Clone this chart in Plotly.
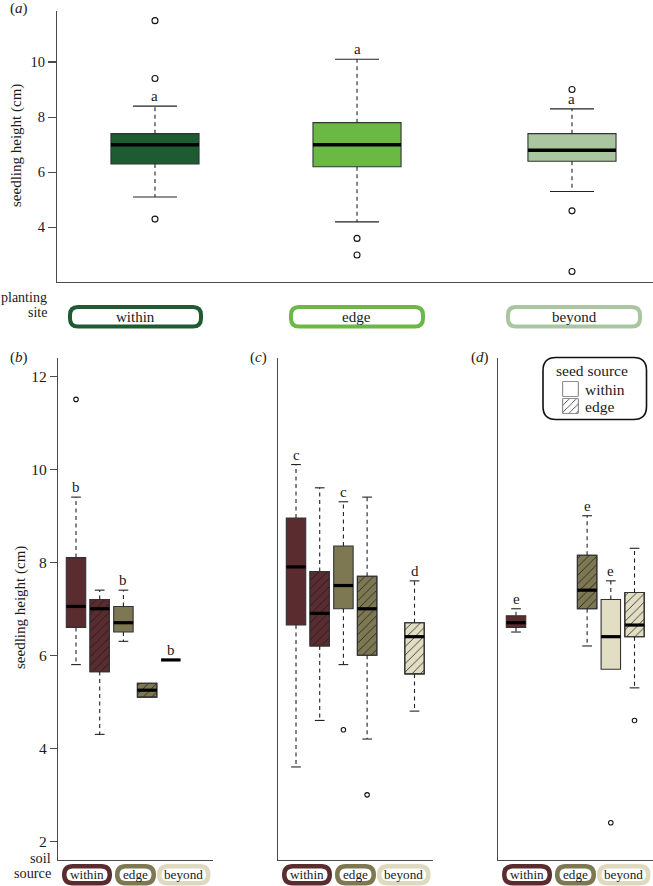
import plotly.graph_objects as go

W, H = 653, 886
FONT = "Liberation Serif"
TXT = "#1a1a1a"

# ---------------- data ----------------
# panel (a): planting site
site_names = ["within", "edge", "beyond"]
a_q1 = [6.3, 6.2, 6.4]
a_med = [7.0, 7.0, 6.8]
a_q3 = [7.4, 7.8, 7.4]
a_lo = [5.1, 4.2, 5.3]
a_hi = [8.4, 10.1, 8.3]
a_out = [[11.5, 9.4, 4.3], [3.6, 3.0], [9.0, 4.6, 2.4]]
a_letters = ["a", "a", "a"]

# panels (b)-(d): soil source x seed source, per planting site
soil_names = ["within", "edge", "beyond"]
group_soil = ["within", "within", "edge", "edge", "beyond", "beyond"]
group_seed = ["within", "edge", "within", "edge", "within", "edge"]

b_q1 = [6.6, 5.65, 6.5, 5.1, 5.9, None]
b_med = [7.05, 7.0, 6.7, 5.25, 5.9, None]
b_q3 = [8.1, 7.2, 7.05, 5.4, 5.9, None]
b_lo = [5.8, 4.3, 6.3, 5.1, 5.9, None]
b_hi = [9.4, 7.4, 7.4, 5.4, 5.9, None]
b_out = [[11.5], [], [], [], [], []]
b_letters = ["b", "", "b", "", "b", ""]

c_q1 = [6.65, 6.2, 7.0, 6.0, None, 5.6]
c_med = [7.9, 6.9, 7.5, 7.0, None, 6.4]
c_q3 = [8.95, 7.8, 8.35, 7.7, None, 6.7]
c_lo = [3.6, 4.6, 5.8, 4.2, None, 4.8]
c_hi = [10.1, 9.6, 9.3, 9.4, None, 7.6]
c_out = [[], [], [4.4], [3.0], [], []]
c_letters = ["c", "", "c", "", "", "d"]

d_q1 = [6.6, None, None, 7.0, 5.7, 6.4]
d_med = [6.7, None, None, 7.4, 6.4, 6.65]
d_q3 = [6.85, None, None, 8.15, 7.2, 7.35]
d_lo = [6.5, None, None, 6.2, 5.7, 5.3]
d_hi = [7.0, None, None, 9.0, 7.6, 8.3]
d_out = [[], [], [], [], [2.4], [4.6]]
d_letters = ["e", "", "", "e", "e", ""]

a_yticks = [4, 6, 8, 10]
bcd_yticks = [2, 4, 6, 8, 10, 12]

# ---------------- styles ----------------
site_colors = {"within": "#1f5b32", "edge": "#6bb845", "beyond": "#a9c6a1"}
soil_colors = {"within": "#5a2c2f", "edge": "#7d7852", "beyond": "#e2dec4"}
soil_border = {"within": "#5a2c2f", "edge": "#7d7852", "beyond": "#dedabf"}

a_pos = [1.0, 2.0, 3.064]
slot_pos = [1, 2, 3, 4, 5, 6]


def px(x):
    return x / W


def py(y):
    return 1 - y / H


fig = go.Figure()

HATCH = dict(shape="/", fillmode="replace", fgcolor="#1a1a1a",
             bgcolor="rgba(0,0,0,0)", size=6, solidity=0.13)


def add_panel(xa, ya, pos, q1, med, q3, lo, hi, outs, fills, hatch, width,
              medw, osize, fontsize, letters):
    idx = [i for i in range(len(pos)) if q1[i] is not None]
    fig.add_trace(go.Bar(
        x=[pos[i] for i in idx],
        y=[q3[i] - q1[i] for i in idx],
        base=[q1[i] for i in idx],
        width=width,
        marker=dict(color=[fills[i] for i in idx],
                    line=dict(color="#333333", width=1.1)),
        xaxis=xa, yaxis=ya, cliponaxis=False, hoverinfo="skip"))
    hidx = [i for i in idx if hatch[i]]
    if hidx:
        fig.add_trace(go.Bar(
            x=[pos[i] for i in hidx],
            y=[q3[i] - q1[i] for i in hidx],
            base=[q1[i] for i in hidx],
            width=width,
            marker=dict(color="rgba(0,0,0,0)",
                        line=dict(color="#333333", width=1.1),
                        pattern=HATCH),
            xaxis=xa, yaxis=ya, cliponaxis=False, hoverinfo="skip"))
    mx, my, wx, wy, cx, cy = [], [], [], [], [], []
    for i in idx:
        x0, x1 = pos[i] - width / 2, pos[i] + width / 2
        mx += [x0, x1, None]
        my += [med[i], med[i], None]
        if hi[i] > q3[i]:
            wx += [pos[i], pos[i], None]
            wy += [q3[i], hi[i], None]
            cx += [pos[i] - width / 4, pos[i] + width / 4, None]
            cy += [hi[i], hi[i], None]
        if lo[i] < q1[i]:
            wx += [pos[i], pos[i], None]
            wy += [q1[i], lo[i], None]
            cx += [pos[i] - width / 4, pos[i] + width / 4, None]
            cy += [lo[i], lo[i], None]
    fig.add_trace(go.Scatter(x=wx, y=wy, mode="lines",
                             line=dict(color="#222", width=1.1, dash="4px,3.5px"),
                             xaxis=xa, yaxis=ya, hoverinfo="skip", cliponaxis=False))
    fig.add_trace(go.Scatter(x=cx, y=cy, mode="lines",
                             line=dict(color="#222", width=1.1),
                             xaxis=xa, yaxis=ya, hoverinfo="skip", cliponaxis=False))
    fig.add_trace(go.Scatter(x=mx, y=my, mode="lines",
                             line=dict(color="#000", width=medw),
                             xaxis=xa, yaxis=ya, hoverinfo="skip", cliponaxis=False))
    ox, oy = [], []
    for i in range(len(pos)):
        for v in outs[i]:
            ox.append(pos[i])
            oy.append(v)
    fig.add_trace(go.Scatter(x=ox, y=oy, mode="markers",
                             marker=dict(symbol="circle-open", size=osize,
                                         color="#111", line=dict(width=1.1)),
                             xaxis=xa, yaxis=ya, hoverinfo="skip", cliponaxis=False))
    for i in idx:
        if letters[i]:
            fig.add_annotation(x=pos[i], y=hi[i], xref=xa, yref=ya,
                               text=letters[i], showarrow=False,
                               yanchor="bottom", yshift=0,
                               font=dict(size=fontsize, color=TXT, family=FONT))


# panel (a)
add_panel("x", "y", a_pos, a_q1, a_med, a_q3, a_lo, a_hi, a_out,
          [site_colors[s] for s in site_names], [False] * 3,
          0.436, 3.6, 6, 15, a_letters)

fill6 = [soil_colors[s] for s in group_soil]
hatch6 = [s == "edge" for s in group_seed]
panels = [("x2", "y2", b_q1, b_med, b_q3, b_lo, b_hi, b_out, b_letters),
          ("x3", "y3", c_q1, c_med, c_q3, c_lo, c_hi, c_out, c_letters),
          ("x4", "y4", d_q1, d_med, d_q3, d_lo, d_hi, d_out, d_letters)]
for xa, ya, q1, med, q3, lo, hi, outs, lets in panels:
    add_panel(xa, ya, slot_pos, q1, med, q3, lo, hi, outs, fill6, hatch6,
              0.82, 3.2, 4.5, 15, lets)

# legend squares (seed source)
fig.add_trace(go.Bar(x=[0.5], y=[1], base=[0], width=1, xaxis="x5", yaxis="y5",
                     marker=dict(color="white", line=dict(color="#222", width=1.2)),
                     cliponaxis=False, hoverinfo="skip"))
fig.add_trace(go.Bar(x=[0.5], y=[1], base=[0], width=1, xaxis="x6", yaxis="y6",
                     marker=dict(color="white", line=dict(color="#222", width=1.2),
                                 pattern=dict(shape="/", fillmode="replace",
                                              fgcolor="#222", bgcolor="white",
                                              size=5, solidity=0.15)),
                     cliponaxis=False, hoverinfo="skip"))

LINE = "#4a4a4a"
axis_common = dict(showgrid=False, zeroline=False, showline=True,
                   linecolor=LINE, linewidth=1.2)
layout = dict(
    width=W, height=H, margin=dict(l=0, r=0, t=0, b=0),
    plot_bgcolor="white", paper_bgcolor="white", showlegend=False,
    barmode="overlay", font=dict(family=FONT, color=TXT),
    xaxis=dict(domain=[px(57), 1.0], range=[0.515, 3.465], anchor="y",
               showticklabels=False, ticks="", **axis_common),
    yaxis=dict(domain=[py(281.7), py(11)], range=[2.03, 11.85], anchor="x",
               tickvals=a_yticks, ticks="outside", ticklen=8, tickcolor=LINE,
               tickwidth=1.2, tickfont=dict(size=14.5, family=FONT, color=TXT),
               **axis_common),
)
xdoms = {"2": (58, 213), "3": (278, 433), "4": (498, 653)}
for k, (l, r) in xdoms.items():
    layout["xaxis" + k] = dict(domain=[px(l), px(r)], range=[0.24, 6.78],
                               anchor="y" + k, showticklabels=False, ticks="",
                               **axis_common)
    yax = dict(domain=[py(860), py(358)], range=[1.6, 12.39], anchor="x" + k,
               **axis_common)
    if k == "2":
        yax.update(tickvals=bcd_yticks, ticks="outside", ticklen=7,
                   tickcolor=LINE, tickwidth=1.2,
                   tickfont=dict(size=15.5, family=FONT, color=TXT))
    else:
        yax.update(showticklabels=False, ticks="")
    layout["yaxis" + k] = yax
hidden = dict(visible=False, range=[0, 1], fixedrange=True)
layout["xaxis5"] = dict(domain=[px(562.5), px(578.5)], anchor="y5", **hidden)
layout["yaxis5"] = dict(domain=[py(396.5), py(381.5)], anchor="x5", **hidden)
layout["xaxis6"] = dict(domain=[px(562.5), px(578.5)], anchor="y6", **hidden)
layout["yaxis6"] = dict(domain=[py(413.5), py(398.5)], anchor="x6", **hidden)
fig.update_layout(**layout)


def rounded(l, t, r, b, rad):
    pts = [("M", (l + rad, t)), ("L", (r - rad, t)),
           ("Q", (r, t), (r, t + rad)), ("L", (r, b - rad)),
           ("Q", (r, b), (r - rad, b)), ("L", (l + rad, b)),
           ("Q", (l, b), (l, b - rad)), ("L", (l, t + rad)),
           ("Q", (l, t), (l + rad, t))]
    s = ""
    for p in pts:
        s += p[0] + " ".join("%.5f,%.5f" % (px(x), py(y)) for x, y in p[1:]) + " "
    return s + "Z"


def pill(l, t, r, b, color, lw, text, size, rad):
    fig.add_shape(type="path", xref="paper", yref="paper",
                  path=rounded(l + lw / 2, t + lw / 2, r - lw / 2, b - lw / 2, rad),
                  line=dict(color=color, width=lw), fillcolor="white", layer="above")
    fig.add_annotation(x=px((l + r) / 2), y=py((t + b) / 2), xref="paper", yref="paper",
                       text=text, showarrow=False, xanchor="center", yanchor="middle",
                       font=dict(size=size, family=FONT, color=TXT))


# planting site pills
top_pills = [(68, 203), (289, 425), (506, 642)]
for (l, r), s in zip(top_pills, site_names):
    pill(l, 305, r, 328.5, site_colors[s], 4, s, 15, 8)

# soil source pills
soil_offsets = [(4, 54), (57, 98), (99, 152.5)]
for k, (l0, r0) in xdoms.items():
    for (a, b), s in zip(soil_offsets, soil_names):
        pill(l0 + a, 864, l0 + b, 885.5, soil_border[s], 4.5, s, 13.2, 8.5)

# legend box
fig.add_shape(type="path", xref="paper", yref="paper",
              path=rounded(543, 357.5, 646.5, 419.5, 13),
              line=dict(color="#111", width=1.6), fillcolor="rgba(0,0,0,0)")


def txt(x, y, s, size, xanchor="center", angle=0):
    fig.add_annotation(x=px(x), y=py(y), xref="paper", yref="paper", text=s,
                       showarrow=False, xanchor=xanchor, yanchor="middle",
                       textangle=angle, font=dict(size=size, family=FONT, color=TXT))


txt(591.5, 370, "seed source", 15.5)
txt(582.5, 389, "within", 15.5, "left")
txt(582.5, 406, "edge", 15.5, "left")

txt(48.5, 297.5, "planting", 14, "right")
txt(48.5, 312.5, "site", 14, "right")
txt(53, 858, "soil", 14.3, "right")
txt(53, 873, "source", 14.3, "right")

txt(19, 9, "(<i>a</i>)", 15)
txt(19, 357, "(<i>b</i>)", 15)
txt(258, 357, "(<i>c</i>)", 15)
txt(480, 357, "(<i>d</i>)", 15)

txt(16, 146, "seedling height (cm)", 15, angle=-90)
txt(20, 608, "seedling height (cm)", 15, angle=-90)

fig.write_html(
    "out.html",
    config={"displayModeBar": False, "staticPlot": True},
    post_script="document.body.style.margin='0';document.body.style.padding='0';"
                "document.body.style.overflow='hidden';"
                "document.documentElement.style.overflow='hidden';",
)
